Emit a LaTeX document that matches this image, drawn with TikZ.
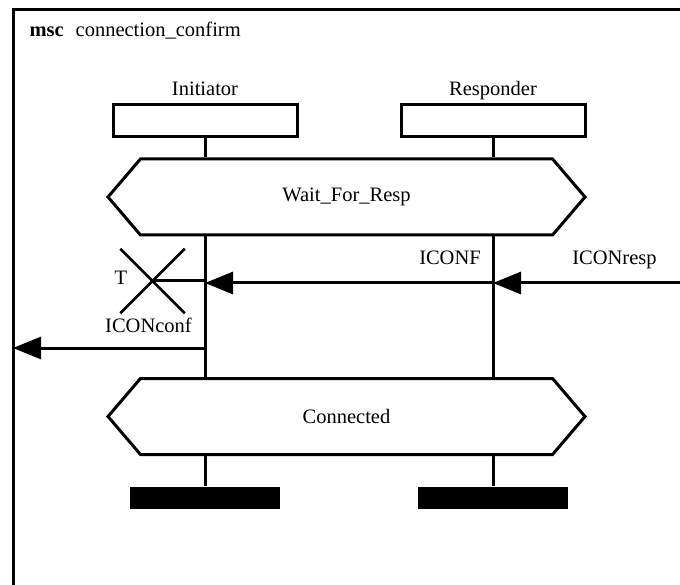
\documentclass[tikz,border=0pt]{standalone}
\usepackage{fontspec}
\setmainfont{Liberation Serif}
\usetikzlibrary{arrows.meta,positioning,shapes.symbols,shapes.misc}

\begin{document}
\begin{tikzpicture}[x=1pt,y=-1pt,line width=3pt,
  font=\fontsize{20.5}{24}\selectfont,
  txt/.style={inner sep=0pt,anchor=base},
  inst/.style={draw,minimum width=184pt,minimum height=32pt,inner sep=0pt},
  cond/.style={draw,signal,signal to=west and east,signal pointer angle=99,
    minimum width=477pt,minimum height=76pt,inner sep=0pt},
  stopbar/.style={fill,minimum width=150pt,minimum height=22pt,inner sep=0pt},
  msg/.style={-{Triangle[length=28pt,width=22pt]}},
  timer/.style={draw,cross out,minimum size=62pt,inner sep=0pt,line width=2.5pt}]
  \useasboundingbox (0,0) rectangle (680,585);
  \clip (0,0) rectangle (680,585);
  % frame
  \draw (13,9.5) rectangle (700,610);
  \node[txt,anchor=base west] (title) at (28,37) {\textbf{msc}\hspace{12pt}connection\_confirm};
  % instances
  \node[inst] (ini) at (205,121) {};
  \node[inst] (res) at (493,121) {};
  \node[txt] (initxt) at ([yshift=8pt]ini.north) {Initiator};
  \node[txt] (restxt) at ([yshift=8pt]res.north) {Responder};
  % conditions
  \node[cond] (wait) at (346.5,197) {Wait\_For\_Resp};
  \node[cond] (conn) at (346.5,416.5) {Connected};
  \node[stopbar] (iniend) at (205,498) {};
  \node[stopbar] (resend) at (493,498) {};
  % lifelines
  \draw (ini) -- (ini |- wait.north);
  \draw (res) -- (res |- wait.north);
  \draw (ini |- wait.south) -- (ini |- conn.north);
  \draw (res |- wait.south) -- (res |- conn.north);
  \draw (ini |- conn.south) -- (iniend);
  \draw (res |- conn.south) -- (resend);
  % messages
  \coordinate (envr) at (680,283);
  \coordinate (envl) at (13,348);
  \draw[msg] (envr) -- (res |- envr);
  \draw[msg] (res |- envr) -- (ini |- envr);
  \draw[msg] (ini |- envl) -- (envl);
  \node[txt] (resplbl) at (614.5,265) {ICONresp};
  \node[txt] (conflbl) at (450,265) {ICONF};
  \node[txt] (cnflbl) at (148.5,333) {ICONconf};
  % timer
  \node[timer] (tmr) at (152.5,281) {};
  \draw (tmr.center) -- (ini |- tmr);
  \node[txt] (tlbl) at (121,285) {T};
\end{tikzpicture}
\end{document}
